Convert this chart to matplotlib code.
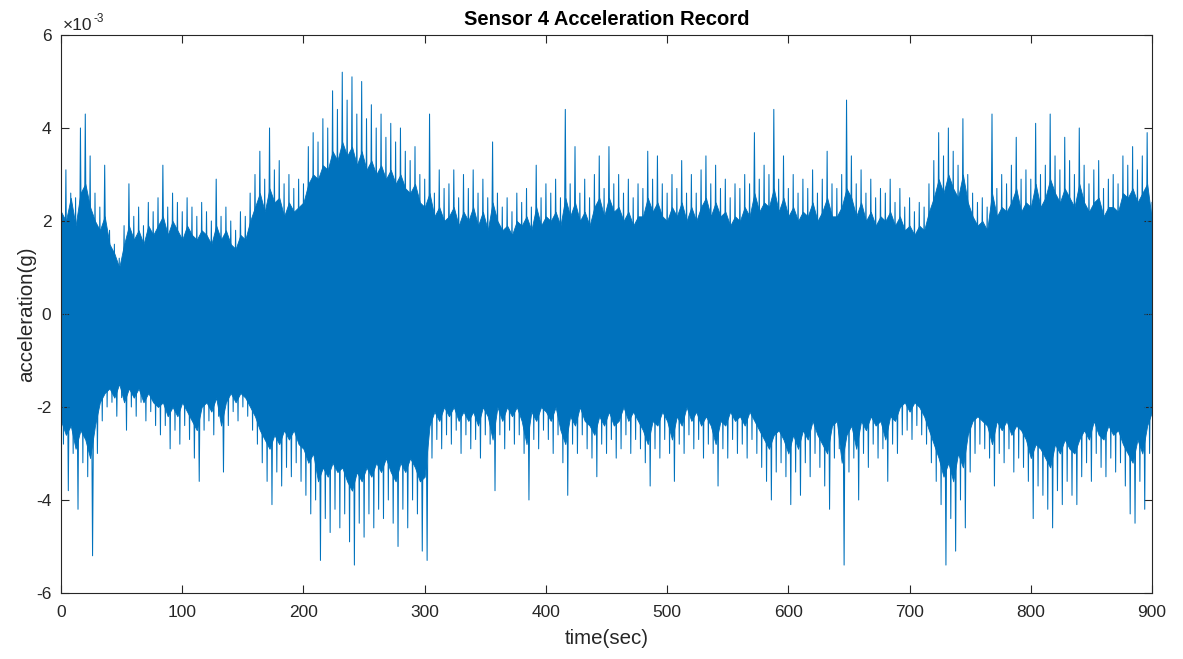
import matplotlib.pyplot as plt
from matplotlib.ticker import FuncFormatter
import numpy as np

plt.rcParams['font.family'] = ['Liberation Sans', 'DejaVu Sans']
plt.rcParams['axes.unicode_minus'] = False

# positive peaks (x1e-3 g), one every 4 s from t = 0 to 900
peaks_up = [
    2.4, 3.1, 2.6, 2.5, 4.0, 4.3, 3.4, 2.6, 2.3, 3.2,
    1.8, 1.5, 1.2, 1.9, 2.8, 2.1, 2.3, 1.9, 2.4, 2.2,
    2.5, 3.2, 2.3, 2.6, 2.4, 2.2, 2.5, 2.3, 2.1, 2.4,
    2.2, 2.0, 2.9, 2.1, 2.3, 2.0, 1.8, 2.2, 2.1, 2.6,
    3.0, 3.5, 2.9, 4.0, 3.1, 3.3, 2.8, 3.0, 2.7, 2.9,
    2.8, 3.6, 3.9, 3.7, 4.2, 4.0, 4.8, 4.4, 5.2, 4.6,
    5.1, 4.3, 5.0, 4.2, 4.5, 4.0, 4.3, 3.8, 4.1, 3.7,
    4.0, 3.5, 3.3, 3.6, 3.0, 2.9, 4.3, 2.6, 3.1, 2.7,
    2.8, 3.1, 2.5, 3.0, 2.7, 3.1, 2.6, 2.9, 2.5, 3.7,
    2.6, 2.3, 2.5, 2.2, 2.6, 2.4, 2.7, 2.3, 3.2, 2.5,
    2.8, 2.6, 2.9, 2.5, 4.4, 2.8, 3.6, 2.6, 2.9, 2.5,
    3.0, 3.4, 2.7, 3.6, 2.8, 3.0, 2.6, 2.9, 2.5, 2.8,
    2.7, 3.5, 2.9, 3.4, 2.8, 2.6, 3.0, 2.7, 3.3, 2.6,
    3.0, 2.6, 3.1, 3.4, 2.8, 3.2, 2.7, 2.9, 2.5, 2.8,
    2.7, 3.0, 2.8, 3.9, 2.9, 3.2, 3.0, 4.4, 2.9, 3.4,
    2.7, 3.0, 2.6, 2.9, 2.7, 3.1, 2.6, 2.9, 3.5, 2.8,
    2.7, 3.0, 4.6, 3.4, 2.8, 3.1, 2.6, 2.9, 2.5, 2.7,
    2.6, 2.9, 2.4, 2.7, 2.3, 2.5, 2.2, 2.4, 2.3, 2.8,
    3.3, 3.9, 3.4, 4.0, 3.5, 3.2, 4.2, 3.0, 2.6, 2.4,
    2.5, 2.3, 4.3, 2.7, 3.0, 2.8, 3.2, 3.8, 2.9, 3.1,
    2.9, 4.1, 3.0, 3.2, 4.3, 3.4, 3.1, 3.8, 3.3, 3.0,
    4.0, 3.2, 2.8, 3.1, 3.3, 2.7, 2.9, 3.0, 2.8, 3.4,
    3.2, 3.6, 3.1, 3.4, 3.9, 2.4,
]

# negative peaks (x1e-3 g), one every 4 s from t = 2 to 898
peaks_dn = [
    -2.8, -3.8, -3.0, -4.2, -3.2, -3.5, -5.2, -3.0, -2.3, -2.0,
    -1.9, -2.2, -1.8, -2.5, -2.0, -2.2, -1.9, -2.3, -2.1, -2.4,
    -2.6, -2.4, -2.9, -2.5, -2.8, -2.4, -2.7, -3.1, -3.6, -2.5,
    -2.3, -2.6, -2.2, -3.4, -2.4, -2.1, -2.3, -2.0, -2.2, -2.5,
    -2.8, -3.2, -3.6, -4.1, -3.4, -3.7, -3.3, -3.5, -3.2, -3.6,
    -3.9, -4.3, -4.0, -5.3, -4.4, -4.7, -4.2, -4.6, -4.3, -4.9,
    -5.4, -4.5, -4.8, -4.3, -4.6, -4.2, -4.4, -4.0, -4.5, -5.0,
    -4.2, -4.6, -4.0, -4.3, -5.1, -5.3, -3.1, -2.7, -2.9, -2.6,
    -2.8, -2.5, -3.0, -2.6, -2.9, -2.7, -3.1, -2.6, -2.8, -3.8,
    -2.6, -2.9, -2.5, -2.8, -2.6, -3.0, -4.0, -2.7, -2.9, -2.5,
    -2.7, -3.0, -2.6, -3.2, -3.9, -2.8, -3.0, -2.6, -2.9, -3.1,
    -3.5, -2.8, -3.0, -2.7, -3.1, -2.9, -2.6, -3.0, -2.7, -2.9,
    -3.2, -3.7, -2.9, -3.1, -2.7, -3.0, -3.6, -2.8, -3.0, -2.6,
    -2.9, -2.7, -3.1, -2.8, -3.0, -3.7, -2.9, -3.1, -2.7, -3.0,
    -2.8, -3.1, -2.7, -3.0, -3.3, -3.6, -4.0, -3.4, -3.2, -3.5,
    -4.1, -3.4, -3.9, -3.2, -3.5, -3.0, -3.3, -3.7, -4.2, -3.1,
    -2.9, -5.4, -3.4, -3.1, -4.0, -3.0, -3.3, -2.8, -3.1, -2.9,
    -3.6, -2.8, -3.0, -2.6, -2.5, -2.7, -2.4, -2.6, -2.8, -3.2,
    -3.6, -4.1, -5.4, -4.4, -5.1, -4.0, -4.6, -3.4, -3.0, -2.8,
    -2.9, -3.1, -3.7, -3.0, -3.2, -2.9, -3.4, -3.1, -3.3, -3.6,
    -4.4, -3.7, -3.9, -4.2, -4.6, -3.8, -4.1, -3.6, -3.9, -4.1,
    -3.5, -3.2, -3.6, -3.0, -3.3, -3.5, -3.1, -3.4, -3.2, -3.7,
    -4.3, -4.5, -3.6, -4.2, -3.0,
]

# upper / lower edge of the dense band (x1e-3 g), every 4 s from t = 0 to 900
band_up = [
    2.2, 2.0, 2.5, 1.9, 2.6, 2.8, 2.3, 2.0, 1.8, 2.1,
    1.5, 1.3, 1.0, 1.5, 1.9, 1.6, 1.8, 1.5, 1.9, 1.7,
    1.9, 2.1, 1.7, 2.0, 1.8, 1.6, 1.9, 1.7, 1.6, 1.8,
    1.7, 1.5, 1.9, 1.6, 1.8, 1.5, 1.4, 1.7, 1.6, 2.0,
    2.3, 2.6, 2.2, 2.7, 2.4, 2.5, 2.1, 2.4, 2.2, 2.3,
    2.4, 2.8, 3.0, 2.9, 3.2, 3.1, 3.5, 3.3, 3.7, 3.4,
    3.6, 3.2, 3.5, 3.1, 3.3, 3.0, 3.2, 2.9, 3.1, 2.8,
    3.0, 2.7, 2.6, 2.8, 2.4, 2.3, 2.6, 2.1, 2.3, 2.0,
    2.1, 2.3, 1.9, 2.2, 2.0, 2.3, 1.9, 2.2, 1.8, 2.4,
    2.0, 1.8, 1.9, 1.7, 2.0, 1.9, 2.1, 1.8, 2.3, 1.9,
    2.1, 2.0, 2.2, 1.9, 2.5, 2.1, 2.4, 2.0, 2.2, 1.9,
    2.3, 2.5, 2.1, 2.5, 2.2, 2.3, 2.0, 2.2, 1.9, 2.1,
    2.1, 2.5, 2.2, 2.4, 2.1, 2.0, 2.3, 2.1, 2.4, 2.0,
    2.3, 2.0, 2.3, 2.5, 2.1, 2.4, 2.1, 2.2, 1.9, 2.1,
    2.0, 2.3, 2.1, 2.6, 2.2, 2.4, 2.3, 2.7, 2.2, 2.5,
    2.1, 2.3, 2.0, 2.2, 2.1, 2.4, 2.0, 2.2, 2.5, 2.1,
    2.1, 2.3, 2.7, 2.5, 2.1, 2.4, 2.0, 2.2, 1.9, 2.1,
    2.0, 2.2, 1.9, 2.1, 1.8, 1.9, 1.7, 1.9, 1.8, 2.2,
    2.5, 2.9, 2.6, 3.0, 2.7, 2.5, 3.0, 2.4, 2.1, 1.9,
    2.0, 1.8, 2.6, 2.1, 2.3, 2.2, 2.4, 2.7, 2.2, 2.4,
    2.3, 2.8, 2.3, 2.5, 2.9, 2.6, 2.4, 2.7, 2.5, 2.3,
    2.8, 2.4, 2.2, 2.4, 2.5, 2.1, 2.3, 2.3, 2.2, 2.6,
    2.5, 2.7, 2.4, 2.6, 2.8, 2.0,
]
band_dn = [
    -2.3, -2.6, -2.4, -2.9, -2.5, -2.7, -3.1, -2.4, -1.9, -1.7,
    -1.6, -1.8, -1.5, -1.9, -1.6, -1.8, -1.6, -1.9, -1.7, -1.9,
    -2.0, -1.9, -2.2, -2.0, -2.2, -1.9, -2.1, -2.3, -2.5, -2.0,
    -1.9, -2.1, -1.8, -2.4, -1.9, -1.7, -1.9, -1.7, -1.8, -2.0,
    -2.2, -2.5, -2.7, -2.9, -2.6, -2.8, -2.5, -2.7, -2.5, -2.8,
    -2.9, -3.2, -3.0, -3.6, -3.3, -3.5, -3.2, -3.4, -3.3, -3.6,
    -3.8, -3.4, -3.6, -3.3, -3.5, -3.2, -3.4, -3.1, -3.4, -3.6,
    -3.2, -3.4, -3.1, -3.3, -3.6, -3.5, -2.4, -2.1, -2.3, -2.0,
    -2.2, -2.0, -2.3, -2.1, -2.3, -2.1, -2.4, -2.0, -2.2, -2.7,
    -2.0, -2.3, -2.0, -2.2, -2.0, -2.3, -2.8, -2.1, -2.3, -2.0,
    -2.1, -2.3, -2.0, -2.5, -2.8, -2.2, -2.4, -2.0, -2.3, -2.4,
    -2.6, -2.2, -2.4, -2.1, -2.4, -2.3, -2.0, -2.3, -2.1, -2.3,
    -2.5, -2.8, -2.3, -2.4, -2.1, -2.3, -2.7, -2.2, -2.4, -2.0,
    -2.3, -2.1, -2.4, -2.2, -2.4, -2.8, -2.3, -2.4, -2.1, -2.3,
    -2.2, -2.4, -2.1, -2.3, -2.5, -2.7, -2.9, -2.6, -2.5, -2.7,
    -3.0, -2.6, -2.9, -2.5, -2.7, -2.3, -2.6, -2.8, -3.0, -2.4,
    -2.3, -3.2, -2.6, -2.4, -2.9, -2.3, -2.5, -2.2, -2.4, -2.3,
    -2.7, -2.2, -2.3, -2.0, -1.9, -2.1, -1.9, -2.0, -2.2, -2.5,
    -2.8, -3.1, -3.5, -3.2, -3.6, -3.0, -3.3, -2.6, -2.3, -2.2,
    -2.3, -2.4, -2.8, -2.3, -2.5, -2.3, -2.6, -2.4, -2.5, -2.7,
    -3.1, -2.8, -2.9, -3.1, -3.3, -2.8, -3.0, -2.7, -2.9, -3.0,
    -2.7, -2.5, -2.7, -2.3, -2.6, -2.7, -2.4, -2.6, -2.5, -2.8,
    -3.0, -3.2, -2.7, -3.0, -2.4, -2.1,
]

t_up = np.arange(0, 901, 4)
t_dn = np.arange(2, 900, 4)
t_band = np.arange(0, 901, 4)

time = np.empty(len(t_up) + len(t_dn))
acc = np.empty_like(time)
time[0::2], time[1::2] = t_up, t_dn
acc[0::2] = np.array(peaks_up) * 1e-3
acc[1::2] = np.array(peaks_dn) * 1e-3

blue = '#0072BD'
dark = '#262626'

fig = plt.figure(figsize=(11.83, 6.59), dpi=100)
ax = fig.add_axes([0.0516, 0.1002, 0.9222, 0.8467])

ax.fill_between(t_band, np.array(band_dn) * 1e-3, np.array(band_up) * 1e-3,
                color=blue, lw=0.6, edgecolor=blue)
ax.plot(time, acc, color=blue, lw=0.75)

ax.set_xlim(0, 900)
ax.set_ylim(-6e-3, 6e-3)
ax.set_xticks(np.arange(0, 901, 100))
ax.set_yticks(np.arange(-6e-3, 6.1e-3, 2e-3))
ax.yaxis.set_major_formatter(FuncFormatter(lambda v, p: f'{round(v * 1e3):d}'))

ax.tick_params(direction='in', length=6, width=0.8, top=True, right=True,
               labelsize=12.5, colors=dark, labelcolor=dark)
ax.tick_params(axis='x', pad=9)
ax.tick_params(axis='y', pad=7)
for s in ax.spines.values():
    s.set_color(dark)
    s.set_linewidth(0.8)

# axis multiplier shown above the y axis, as in the source figure
ax.annotate('×10', xy=(0, 1), xycoords='axes fraction', xytext=(1, 3.6),
            textcoords='offset points', fontsize=12.5, color=dark, va='baseline')
ax.annotate('-3', xy=(0, 1), xycoords='axes fraction', xytext=(23.5, 9.5),
            textcoords='offset points', fontsize=8.5, color=dark, va='baseline')

ax.set_title('Sensor 4 Acceleration Record', fontsize=14.5, fontweight='bold', pad=7)
ax.set_xlabel('time(sec)', fontsize=14.8, color=dark, labelpad=6)
ax.set_ylabel('acceleration(g)', fontsize=14.8, color=dark, labelpad=0)

fig.savefig('out.png', dpi=100)
